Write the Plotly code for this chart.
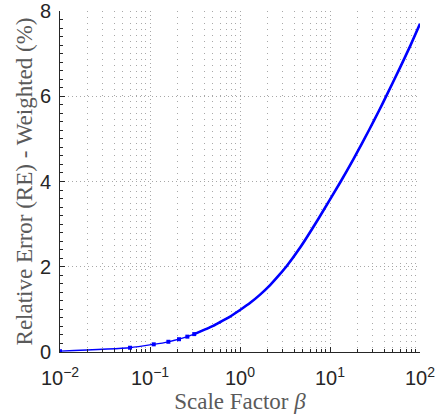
import plotly.graph_objects as go

# Data
beta = [0.01, 0.06, 0.11, 0.16, 0.21, 0.26, 0.31, 0.41, 0.51, 0.61, 0.76,
        1.01, 1.31, 1.66, 2.16, 2.76, 3.26, 4.66, 7.41, 13.16, 18.16,
        27.36, 35.01, 41.86, 60.01, 77.46, 100.0]
rel_error = [0.02, 0.10, 0.18, 0.24, 0.30, 0.36, 0.42, 0.53, 0.62, 0.71, 0.82,
             0.99, 1.16, 1.34, 1.57, 1.82, 2.00, 2.45, 3.12, 4.00, 4.52,
             5.22, 5.66, 5.99, 6.67, 7.17, 7.70]

x_tick_vals = [0.01, 0.1, 1, 10, 100]
x_tick_text = ["10<sup>−2</sup>", "10<sup>−1</sup>", "10<sup>0</sup>", "10<sup>1</sup>", "10<sup>2</sup>"]
y_tick_vals = [0, 2, 4, 6, 8]

x_minor = [m * d for d in [0.01, 0.1, 1, 10] for m in range(2, 10)]

n_sparse = 7  # points with visibly separate markers

blue = "#0000ff"
fig = go.Figure()
fig.add_trace(go.Scatter(x=beta, y=rel_error, mode="lines",
                         line=dict(color=blue, width=1.3, shape="spline", smoothing=0.6),
                         showlegend=False))
fig.add_trace(go.Scatter(x=beta[n_sparse - 1:], y=rel_error[n_sparse - 1:], mode="lines",
                         line=dict(color=blue, width=2.6, shape="spline", smoothing=0.6),
                         showlegend=False))
fig.add_trace(go.Scatter(x=beta[:n_sparse], y=rel_error[:n_sparse], mode="markers",
                         marker=dict(color=blue, size=4, symbol="square"), showlegend=False))

tick_font = dict(family="Liberation Sans, Arial, sans-serif", size=20, color="#262626")
title_font = dict(family="Liberation Serif, Times New Roman, serif", size=23, color="#5a5a5a")
grid_col = "#a8a8a8"

fig.update_layout(
    width=443, height=416,
    margin=dict(l=60, r=23, t=11, b=64),
    paper_bgcolor="white", plot_bgcolor="white",
    xaxis=dict(
        type="log", range=[-2, 2], automargin=False,
        tickmode="array", tickvals=x_tick_vals, ticktext=x_tick_text,
        tickfont=tick_font, ticks="inside", ticklen=5, tickcolor="#262626",
        ticklabelstandoff=8,
        showline=True, linecolor="#262626", linewidth=1, mirror=False,
        showgrid=True, gridcolor=grid_col, griddash="1px,3px", gridwidth=1,
        zeroline=False,
        minor=dict(tickmode="array", tickvals=x_minor, ticks="inside", ticklen=3,
                   tickcolor="#262626", showgrid=True, gridcolor=grid_col,
                   griddash="1px,5px", gridwidth=1),
        title=dict(text="Scale Factor <i>β</i>", font=title_font, standoff=0),
    ),
    yaxis=dict(
        range=[0, 8], automargin=False,
        tickmode="array", tickvals=y_tick_vals,
        tickfont=tick_font, ticks="inside", ticklen=5, tickcolor="#262626",
        ticklabelstandoff=4,
        showline=True, linecolor="#262626", linewidth=1, mirror=False,
        showgrid=True, gridcolor=grid_col, griddash="1px,3px", gridwidth=1,
        zeroline=False,
        minor=dict(dtick=0.2, ticks="inside", ticklen=3, tickcolor="#262626",
                   showgrid=False),
        title=dict(text="Relative Error (RE) - Weighted (%)", font=title_font, standoff=0),
    ),
)

# remove the default 8px page margin so the figure fills the window exactly
fig.write_html("out.html", config={"displayModeBar": False},
               post_script="document.body.style.margin='0';")
